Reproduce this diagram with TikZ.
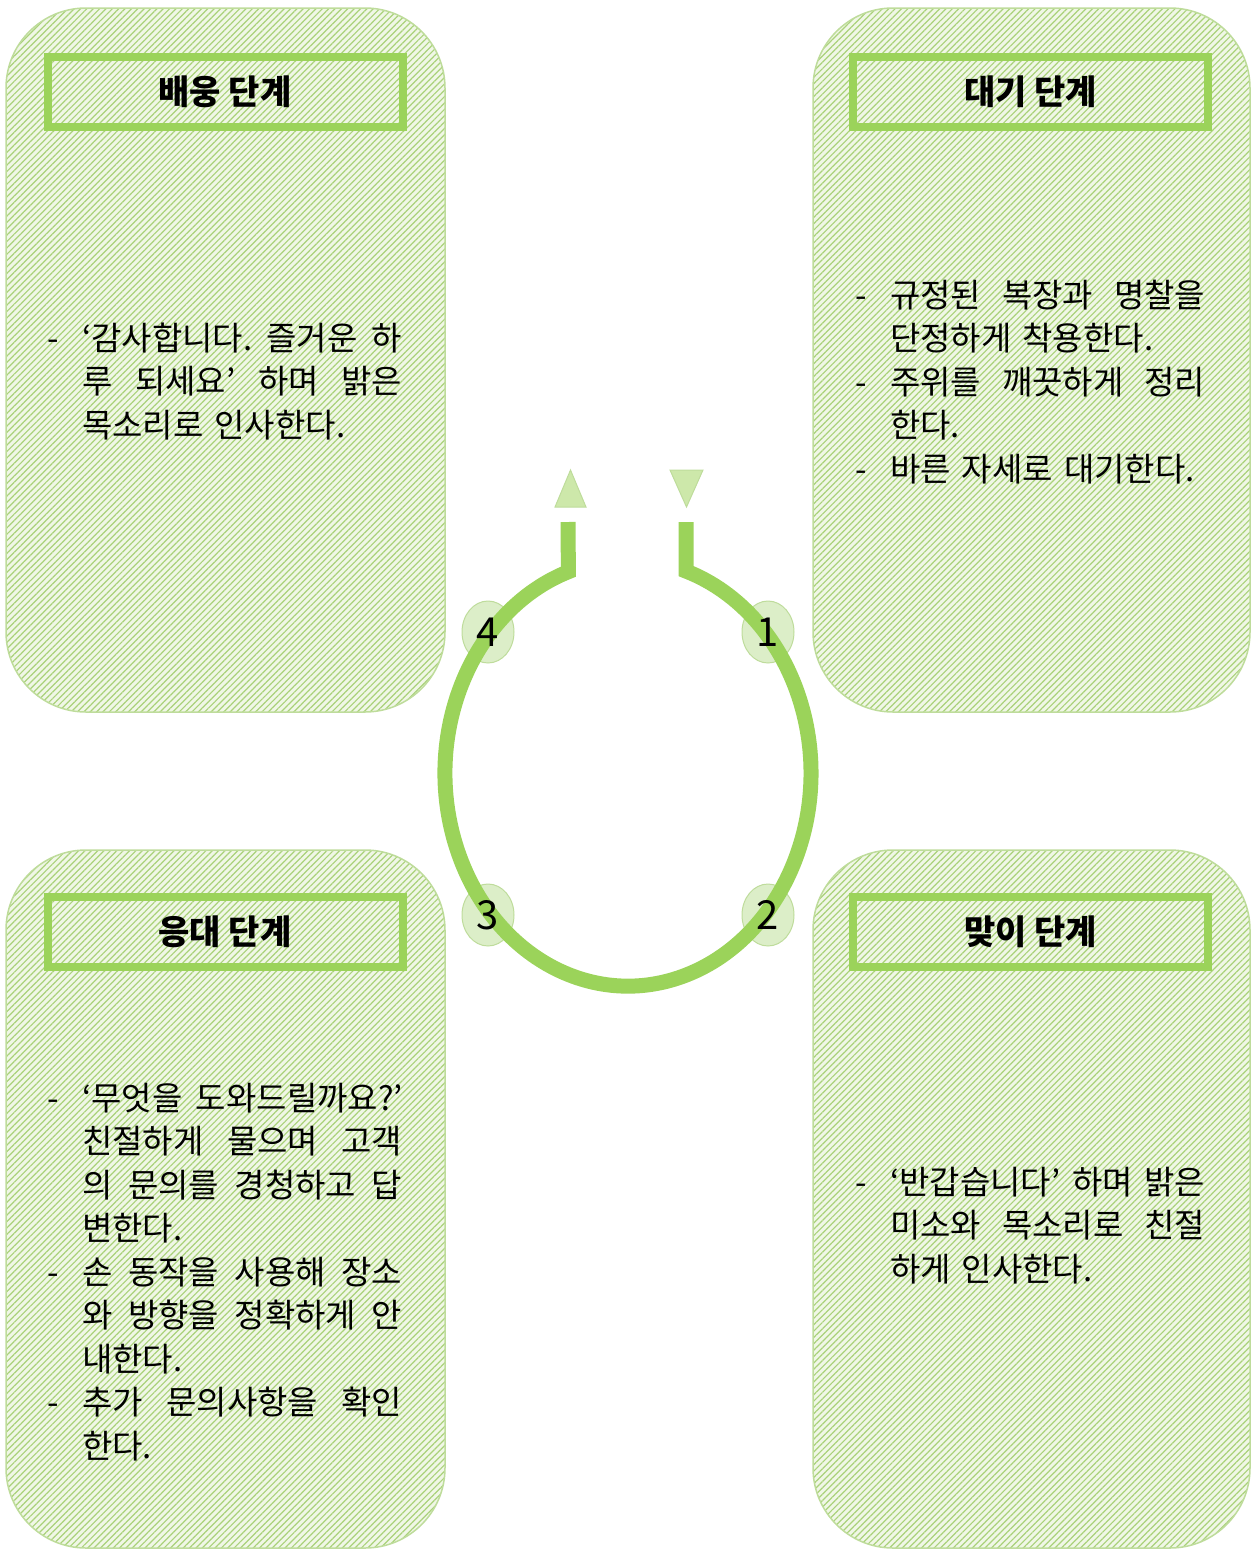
\documentclass[tikz,border=0pt]{standalone}
\usepackage{fontspec}
\setmainfont{Noto Sans CJK KR}
\usepackage{xcolor}
\usetikzlibrary{patterns.meta,shapes.geometric}

\definecolor{leaf}{RGB}{155,211,90}
\definecolor{hatch}{RGB}{170,210,122}
\definecolor{paper}{RGB}{240,247,230}
\definecolor{rim}{RGB}{190,220,155}
\definecolor{tipfill}{RGB}{205,232,170}
\definecolor{dotfill}{RGB}{220,238,200}

\newcommand{\sayfont}{\fontsize{33}{43.5}\selectfont\frenchspacing\spaceskip=0.3em\relax}
\newcommand{\dashlead}{\makebox[35pt][l]{-}}
\newcommand{\nolead}{\hspace*{35pt}}
\newcommand{\fullrow}[1]{\makebox[320pt][s]{\spaceskip=0.3em plus 1fil\relax #1}}
\newcommand{\fullrowR}[1]{\makebox[315pt][s]{\spaceskip=0.3em plus 1fil\relax #1}}

\begin{document}
\begin{tikzpicture}[x=1pt,y=-1pt,
    stage/.style={draw=rim,line width=1.5pt,rounded corners=80pt,
      preaction={fill=paper},
      pattern={Lines[angle=45,distance=4.5pt,line width=1.2pt]},pattern color=hatch},
    head/.style={draw=leaf,line width=8pt,minimum width=355pt,minimum height=70pt,
      inner sep=0pt,font=\fontsize{34}{40}\selectfont\bfseries},
    say/.style={anchor=base west,inner sep=0pt,text width=360pt,align=left,
      font=\sayfont},
    dot/.style={ellipse,draw=rim,line width=1pt,fill=dotfill,
      minimum width=52pt,minimum height=62pt,inner sep=0pt},
    num/.style={inner sep=0pt,font=\fontsize{40}{40}\selectfont},
    tip/.style={fill=tipfill,draw=rim,line width=1pt}]
  \useasboundingbox (0,0) rectangle (1254,1553); % page size of the scan

  % four stage panels
  \path[stage] (6,8) rectangle (445,712);
  \path[stage] (813,8) rectangle (1250,712);
  \path[stage] (6,850) rectangle (445,1548);
  \path[stage] (813,850) rectangle (1250,1548);

  \node[head] (headA) at (225,92) {배웅 단계};
  \node[head] (headB) at (1030.5,91.5) {대기 단계};
  \node[head] (headC) at (225,931.5) {응대 단계};
  \node[head] (headD) at (1030.5,931.5) {맞이 단계};

  \node[say] (sayA) at (47,350) {\dashlead\fullrow{‘감사합니다. 즐거운 하}\\
    \nolead\fullrow{루 되세요’ 하며 밝은}\\
    \nolead 목소리로 인사한다.};
  \node[say] (sayB) at (855,307) {\dashlead\fullrowR{규정된 복장과 명찰을}\\
    \nolead 단정하게 착용한다.\\
    \dashlead\fullrowR{주위를 깨끗하게 정리}\\
    \nolead 한다.\\
    \dashlead 바른 자세로 대기한다.};
  \node[say] (sayC) at (47,1110) {\dashlead\fullrow{‘무엇을 도와드릴까요?’}\\
    \nolead\fullrow{친절하게 물으며 고객}\\
    \nolead\fullrow{의 문의를 경청하고 답}\\
    \nolead 변한다.\\
    \dashlead\fullrow{손 동작을 사용해 장소}\\
    \nolead\fullrow{와 방향을 정확하게 안}\\
    \nolead 내한다.\\
    \dashlead\fullrow{추가 문의사항을 확인}\\
    \nolead 한다.};
  \node[say] (sayD) at (855,1194) {\dashlead\fullrowR{‘반갑습니다’ 하며 밝은}\\
    \nolead\fullrowR{미소와 목소리로 친절}\\
    \nolead 하게 인사한다.};

  % cycle in the middle
  \coordinate (hub) at (628,775);
  \node[dot] (dot1) at (768,632) {};
  \node[dot] (dot2) at (768,915) {};
  \node[dot] (dot3) at (488,915) {};
  \node[dot] (dot4) at (488,632) {};

  \coordinate (endL) at (568,522);
  \coordinate (endR) at (686,522);
  \draw[leaf,line width=15pt] (endL) -- (568.4,571.7)
    arc[start angle=251,end angle=-71.5,x radius=183,y radius=213] -- (endR);

  \node[num] (num1) at (dot1) {1};
  \node[num] (num2) at (dot2) {2};
  \node[num] (num3) at (dot3) {3};
  \node[num] (num4) at (dot4) {4};

  \path[tip] (555,507) -- (586,507) -- (570.5,470) -- cycle;
  \path[tip] (670,470) -- (703,470) -- (686.5,507) -- cycle;
\end{tikzpicture}
\end{document}
